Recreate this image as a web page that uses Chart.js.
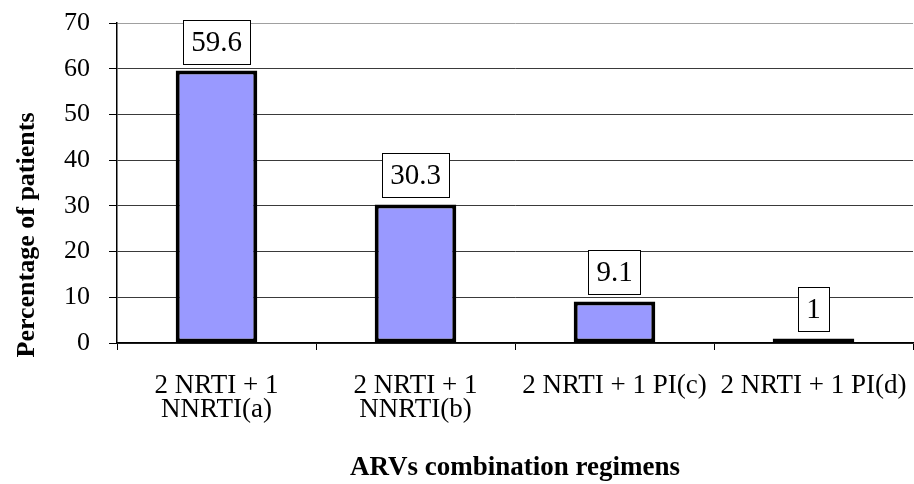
<!DOCTYPE html>
<html>
<head>
<meta charset="utf-8">
<script src="https://cdn.jsdelivr.net/npm/chart.js@4"></script>
<style>
  html, body { margin: 0; padding: 0; background: #ffffff; }
  #wrap { width: 914px; height: 484px; }
</style>
</head>
<body>
<div id="wrap"><canvas id="c" width="914" height="484"></canvas></div>
<script>
// ---- data ----
const categories = [
  ["2 NRTI + 1", "NNRTI(a)"],
  ["2 NRTI + 1", "NNRTI(b)"],
  "2 NRTI + 1 PI(c)",
  "2 NRTI + 1 PI(d)"
];
const percentages = [59.6, 30.3, 9.1, 1];
const valueLabels = ["59.6", "30.3", "9.1", "1"];
const yTicks = [0, 10, 20, 30, 40, 50, 60, 70];
const yTitle = "Percentage of patients";
const xTitle = "ARVs combination regimens";

const SERIF = "'Liberation Serif', 'Times New Roman', serif";

const boxLabels = {
  id: 'boxLabels',
  afterDatasetsDraw(chart) {
    const ctx = chart.ctx;
    const meta = chart.getDatasetMeta(0);
    ctx.save();
    ctx.font = "29px " + SERIF;
    ctx.textAlign = 'center';
    ctx.textBaseline = 'middle';
    meta.data.forEach((el, i) => {
      const txt = valueLabels[i];
      const w = ctx.measureText(txt).width + 16;
      const h = 44;
      const bottom = el.y - 7;
      const x0 = Math.round(el.x - w / 2) + 0.5;
      const y0 = Math.round(bottom - h) + 0.5;
      ctx.fillStyle = '#ffffff';
      ctx.fillRect(x0, y0, Math.round(w), h);
      ctx.strokeStyle = '#000000';
      ctx.lineWidth = 1;
      ctx.strokeRect(x0, y0, Math.round(w), h);
      ctx.fillStyle = '#000000';
      ctx.fillText(txt, el.x, y0 + h / 2 + 1);
    });
    ctx.restore();
  }
};

const axisTitles = {
  id: 'axisTitles',
  afterDraw(chart) {
    const ctx = chart.ctx;
    const a = chart.chartArea;
    ctx.save();
    ctx.fillStyle = '#000000';
    ctx.textAlign = 'center';
    ctx.textBaseline = 'middle';
    ctx.font = "bold 27px " + SERIF;
    ctx.fillText(xTitle, (a.left + a.right) / 2, 468);
    ctx.translate(27, 235);
    ctx.rotate(-Math.PI / 2);
    ctx.font = "bold 26px " + SERIF;
    ctx.fillText(yTitle, 0, 0);
    ctx.restore();
  }
};

new Chart(document.getElementById('c'), {
  type: 'bar',
  data: {
    labels: categories,
    datasets: [{
      data: percentages,
      backgroundColor: '#9999ff',
      borderColor: '#000000',
      borderWidth: 4,
      borderSkipped: false,
      barPercentage: 0.41,
      categoryPercentage: 1.0
    }]
  },
  options: {
    responsive: false,
    animation: false,
    layout: { padding: { top: 23, right: 1, left: 0, bottom: 0 } },
    plugins: {
      legend: { display: false },
      tooltip: { enabled: false },
      title: { display: false }
    },
    scales: {
      x: {
        afterFit(scale) {
          scale.height = 141;
          scale.paddingLeft = 0;
          scale.paddingRight = 0;
        },
        grid: {
          offset: true,
          drawOnChartArea: true,
          color: (c) => (c.index === categories.length ? '#9a9a9a' : 'rgba(0,0,0,0)'),
          tickColor: '#000000',
          tickLength: 7,
          lineWidth: 1
        },
        border: { display: true, color: '#000000', width: 1.5 },
        ticks: {
          color: '#000000',
          font: { family: SERIF, size: 27, lineHeight: 0.92 },
          padding: 23,
          autoSkip: false,
          maxRotation: 0,
          minRotation: 0
        }
      },
      y: {
        min: 0,
        max: 70,
        afterFit(scale) {
          scale.width = 117;
          scale.paddingTop = 0;
          scale.paddingBottom = 0;
        },
        afterBuildTicks(scale) { scale.ticks = yTicks.map(v => ({ value: v })); },
        grid: {
          color: (c) => (c.tick && c.tick.value === 70 ? '#a0a0a0' : '#3a3a3a'),
          tickColor: '#000000',
          tickLength: 8,
          lineWidth: 1
        },
        border: { display: true, color: '#000000', width: 1.5 },
        ticks: {
          color: '#000000',
          font: { family: SERIF, size: 26 },
          padding: 19
        }
      }
    }
  },
  plugins: [boxLabels, axisTitles]
});
</script>
</body>
</html>
